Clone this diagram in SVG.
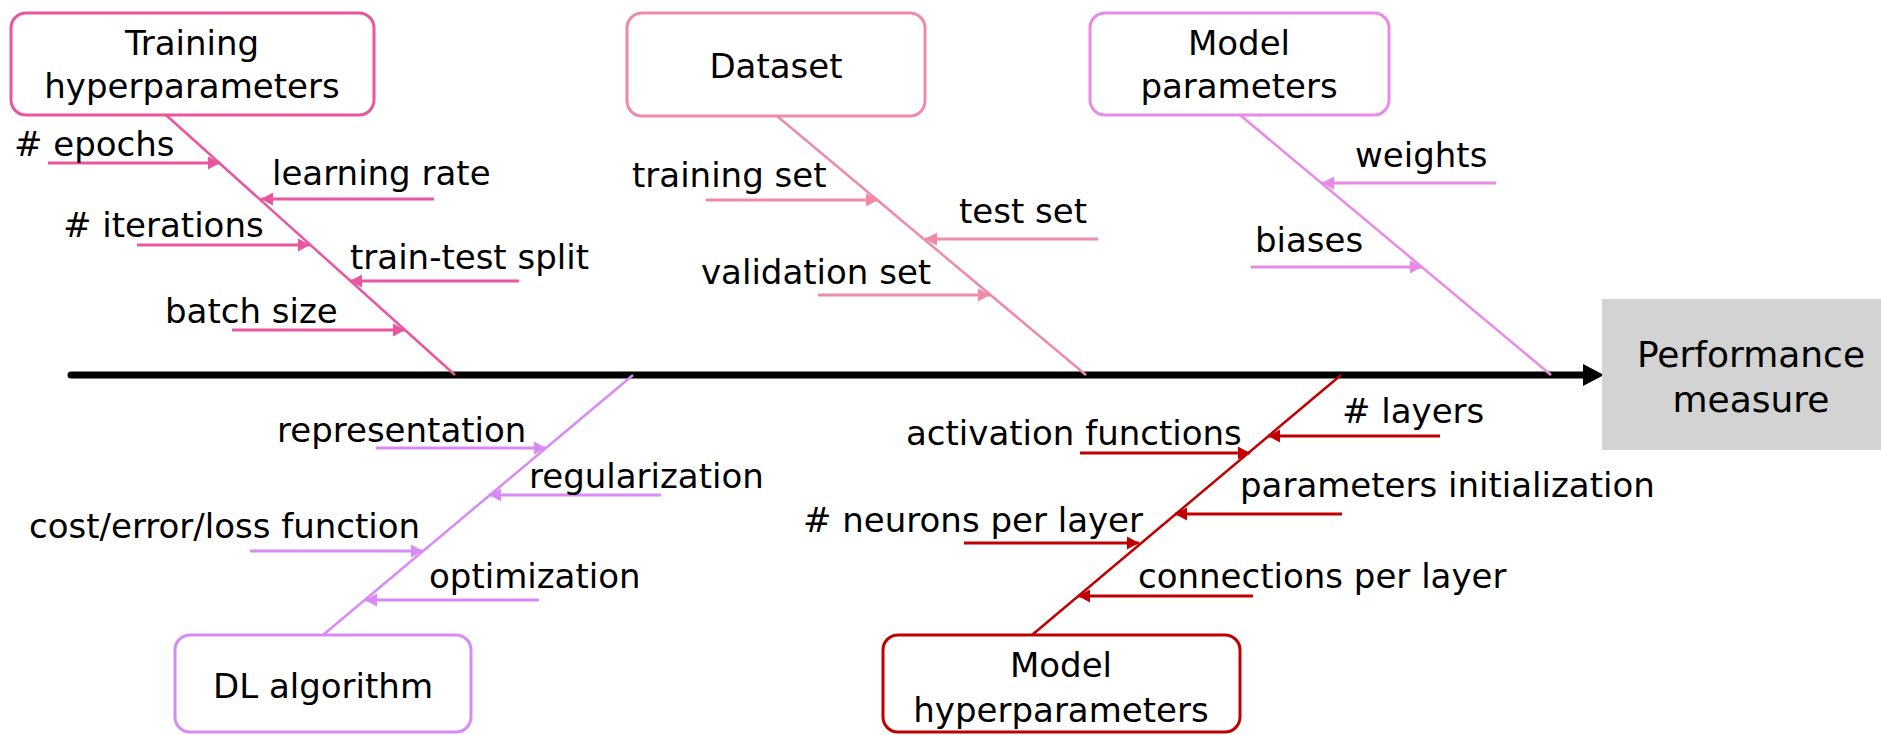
<svg xmlns="http://www.w3.org/2000/svg" width="1881" height="735" viewBox="0 0 1881 735">
  <style>
    text { font-family: "DejaVu Sans", "Liberation Sans", sans-serif; font-size: 34px; fill: #000; }
    .c { text-anchor: middle; }
    .big { font-size: 36px; }
    .box { fill: #fff; stroke-width: 3; }
    .spine { fill: none; stroke-width: 2.5; }
    .rib { fill: none; stroke-width: 3; }
    .pink { stroke: #E9559F; }
    .rose { stroke: #EF8AA8; }
    .orchid { stroke: #E88AE6; }
    .violet { stroke: #D88AF5; }
    .red { stroke: #C00000; }
  </style>
  <defs>
    <marker id="ah-pink" markerUnits="userSpaceOnUse" markerWidth="13" markerHeight="14" refX="12" refY="7" orient="auto">
      <path d="M0,0.5 L12,7 L0,13.5 z" fill="#E9559F"/>
    </marker>
    <marker id="ah-rose" markerUnits="userSpaceOnUse" markerWidth="13" markerHeight="14" refX="12" refY="7" orient="auto">
      <path d="M0,0.5 L12,7 L0,13.5 z" fill="#EF8AA8"/>
    </marker>
    <marker id="ah-orchid" markerUnits="userSpaceOnUse" markerWidth="13" markerHeight="14" refX="12" refY="7" orient="auto">
      <path d="M0,0.5 L12,7 L0,13.5 z" fill="#E88AE6"/>
    </marker>
    <marker id="ah-violet" markerUnits="userSpaceOnUse" markerWidth="13" markerHeight="14" refX="12" refY="7" orient="auto">
      <path d="M0,0.5 L12,7 L0,13.5 z" fill="#D88AF5"/>
    </marker>
    <marker id="ah-red" markerUnits="userSpaceOnUse" markerWidth="13" markerHeight="14" refX="12" refY="7" orient="auto">
      <path d="M0,0.5 L12,7 L0,13.5 z" fill="#C00000"/>
    </marker>
  </defs>

  <!-- connectors: main axis, category spines and cause ribs -->
  <g id="connectors">
    <line x1="71" y1="375" x2="1586" y2="375" stroke="#000" stroke-width="7" stroke-linecap="round"/>
    <polygon points="1583,364 1604,375 1583,386" fill="#000"/>

    <line class="spine pink" x1="166" y1="115" x2="455" y2="375"/>
    <line class="rib pink" x1="48" y1="163" x2="220" y2="163" marker-end="url(#ah-pink)"/>
    <line class="rib pink" x1="434" y1="199" x2="261" y2="199" marker-end="url(#ah-pink)"/>
    <line class="rib pink" x1="137" y1="245" x2="310" y2="245" marker-end="url(#ah-pink)"/>
    <line class="rib pink" x1="519" y1="281" x2="350" y2="281" marker-end="url(#ah-pink)"/>
    <line class="rib pink" x1="232" y1="330" x2="405" y2="330" marker-end="url(#ah-pink)"/>

    <line class="spine rose" x1="777" y1="116" x2="1086" y2="375"/>
    <line class="rib rose" x1="706" y1="200" x2="878" y2="200" marker-end="url(#ah-rose)"/>
    <line class="rib rose" x1="1098" y1="239" x2="925" y2="239" marker-end="url(#ah-rose)"/>
    <line class="rib rose" x1="818" y1="295" x2="990" y2="295" marker-end="url(#ah-rose)"/>

    <line class="spine orchid" x1="1240" y1="115" x2="1551" y2="375"/>
    <line class="rib orchid" x1="1496" y1="183" x2="1322" y2="183" marker-end="url(#ah-orchid)"/>
    <line class="rib orchid" x1="1251" y1="267" x2="1422" y2="267" marker-end="url(#ah-orchid)"/>

    <line class="spine violet" x1="633" y1="375" x2="323" y2="635"/>
    <line class="rib violet" x1="376" y1="448" x2="546" y2="448" marker-end="url(#ah-violet)"/>
    <line class="rib violet" x1="661" y1="495" x2="489" y2="495" marker-end="url(#ah-violet)"/>
    <line class="rib violet" x1="250" y1="551" x2="423" y2="551" marker-end="url(#ah-violet)"/>
    <line class="rib violet" x1="539" y1="600" x2="365" y2="600" marker-end="url(#ah-violet)"/>

    <line class="spine red" x1="1341" y1="375" x2="1032" y2="635"/>
    <line class="rib red" x1="1440" y1="436" x2="1268" y2="436" marker-end="url(#ah-red)"/>
    <line class="rib red" x1="1080" y1="453" x2="1250" y2="453" marker-end="url(#ah-red)"/>
    <line class="rib red" x1="1342" y1="514" x2="1175" y2="514" marker-end="url(#ah-red)"/>
    <line class="rib red" x1="964" y1="543" x2="1139" y2="543" marker-end="url(#ah-red)"/>
    <line class="rib red" x1="1253" y1="596" x2="1078" y2="596" marker-end="url(#ah-red)"/>
  </g>

  <!-- cause labels -->
  <g id="labels">
    <text x="14" y="156"># epochs</text>
    <text x="272" y="185">learning rate</text>
    <text x="63" y="237"># iterations</text>
    <text x="350" y="269">train-test split</text>
    <text x="165" y="323">batch size</text>

    <text x="632" y="187">training set</text>
    <text x="959" y="223">test set</text>
    <text x="701" y="284">validation set</text>

    <text x="1355" y="167">weights</text>
    <text x="1255" y="252">biases</text>

    <text x="277" y="442">representation</text>
    <text x="529" y="488">regularization</text>
    <text x="29" y="538">cost/error/loss function</text>
    <text x="429" y="588">optimization</text>

    <text x="1342" y="423"># layers</text>
    <text x="906" y="445">activation functions</text>
    <text x="1240" y="497">parameters initialization</text>
    <text x="803" y="532"># neurons per layer</text>
    <text x="1138" y="588">connections per layer</text>
  </g>

  <g id="training-hyperparameters">
    <rect class="box pink" x="11" y="13" width="363" height="102" rx="15"/>
    <text class="c" x="192" y="55">Training</text>
    <text class="c" x="192" y="98">hyperparameters</text>
  </g>

  <g id="dataset">
    <rect class="box rose" x="627" y="13" width="298" height="103" rx="15"/>
    <text class="c" x="776" y="78">Dataset</text>
  </g>

  <g id="model-parameters">
    <rect class="box orchid" x="1090" y="13" width="299" height="102" rx="15"/>
    <text class="c" x="1239" y="55">Model</text>
    <text class="c" x="1239" y="98">parameters</text>
  </g>

  <g id="dl-algorithm">
    <rect class="box violet" x="175" y="635" width="296" height="97" rx="15"/>
    <text class="c" x="323" y="698">DL algorithm</text>
  </g>

  <g id="model-hyperparameters">
    <rect class="box red" x="883" y="635" width="357" height="97" rx="15"/>
    <text class="c" x="1061" y="677">Model</text>
    <text class="c" x="1061" y="722">hyperparameters</text>
  </g>

  <g id="performance-measure">
    <rect x="1602" y="299" width="300" height="151" fill="#D3D3D3"/>
    <text class="c big" x="1751" y="367">Performance</text>
    <text class="c big" x="1751" y="412">measure</text>
  </g>
</svg>
